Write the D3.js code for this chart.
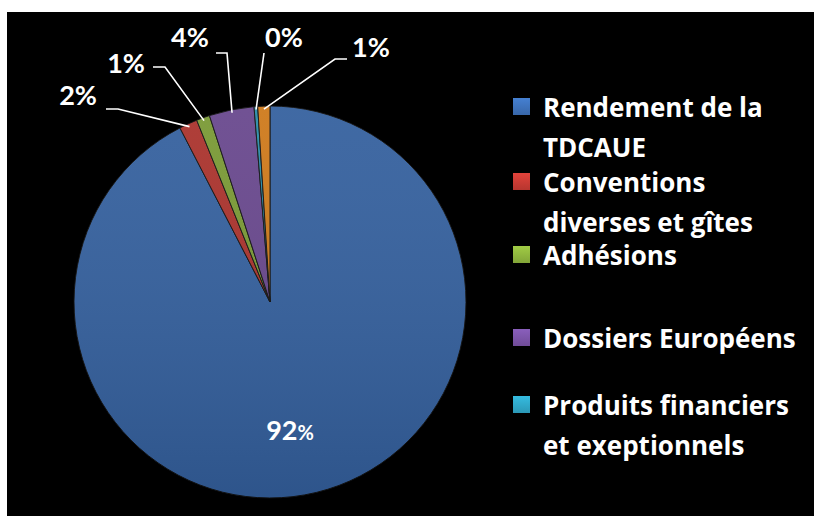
<!DOCTYPE html>
<html><head><meta charset="utf-8">
<script src="https://cdn.jsdelivr.net/npm/d3@7"></script>
<style>
html,body{margin:0;padding:0;background:#fff;}
svg{display:block;}
text{font-family:Lato,"Open Sans",sans-serif;font-weight:bold;fill:#fff;}
text.leg{font-family:"Open Sans",Lato,sans-serif;}
</style></head>
<body>
<svg id="c" width="814" height="516"></svg>
<script>
// ---- data ----
const categories = ["Rendement de la TDCAUE","Conventions diverses et gîtes","Adhésions","Dossiers Européens","Produits financiers et exeptionnels","Autres"];
const values = [92.4, 1.5, 1.1, 3.7, 0.3, 1.0];
const legendLines = [["Rendement de la","TDCAUE"],["Conventions","diverses et gîtes"],["Adhésions"],["Dossiers Européens"],["Produits financiers","et exeptionnels"]];
const colors = ["#3c6fb6","#c43a33","#8cb13c","#7852a3","#2ea3c3","#ee8b1e"];

const svg = d3.select("#c");
svg.append("rect").attr("x",7).attr("y",12).attr("width",807).attr("height",504).attr("fill","#000");

const cx = 270, cy = 302, r = 196;
const defs = svg.append("defs");
colors.forEach((c,i)=>{
  const g = defs.append("radialGradient").attr("id","g"+i).attr("gradientUnits","userSpaceOnUse")
    .attr("cx",cx).attr("cy",cy).attr("r",r);
  const base = d3.color(c);
  g.append("stop").attr("offset","0%").attr("stop-color",base.brighter(0.05));
  g.append("stop").attr("offset","93%").attr("stop-color",base.darker(0.1));
  g.append("stop").attr("offset","97%").attr("stop-color",base.brighter(0.35));
  g.append("stop").attr("offset","100%").attr("stop-color",base.darker(0.4));
});
const lg = defs.append("linearGradient").attr("id","shade").attr("x1",0).attr("y1",0).attr("x2",0).attr("y2",1);
lg.append("stop").attr("offset","0%").attr("stop-color","#fff").attr("stop-opacity",0.06);
lg.append("stop").attr("offset","100%").attr("stop-color","#000").attr("stop-opacity",0.12);

const pie = d3.pie().sort(null).value(d=>d);
const arcs = pie(values);
const arc = d3.arc().innerRadius(0).outerRadius(r);
const rim = d3.arc().innerRadius(r-3).outerRadius(r-3);

const gp = svg.append("g").attr("transform",`translate(${cx},${cy})`);
gp.selectAll("path.s").data(arcs).join("path").attr("class","s")
  .attr("d",arc).attr("fill",(d,i)=>`url(#g${i})`)
  .attr("stroke","#111").attr("stroke-width",1).attr("stroke-linejoin","round");
gp.append("circle").attr("r",r).attr("fill","url(#shade)");

// label layout (text position and leader elbow, page coords)
const labelLayout = [
  {tx:290, ty:440, anchor:"middle", inside:true},
  {tx:97,  ty:105, anchor:"end",   p:[[106,109],[118,109]]},
  {tx:145, ty:73,  anchor:"end",   p:[[153,67],[165,67]]},
  {tx:190, ty:47,  anchor:"middle",p:[[216,53],[227,53]]},
  {tx:284, ty:47,  anchor:"middle",p:[[264,53]]},
  {tx:352, ty:57,  anchor:"start", p:[[347,59],[335,59]]}
];
const fmt = v => Math.round(v);
arcs.forEach((a,i)=>{
  const L = labelLayout[i];
  if(L.inside){
    const t = svg.append("text").attr("x",L.tx).attr("y",L.ty).attr("text-anchor",L.anchor).attr("font-size",27);
    t.append("tspan").text(fmt(a.value));
    t.append("tspan").attr("font-size",20).text("%");
    return;
  }
  const c = rim.centroid(a);
  const pts = L.p.concat([[cx+c[0], cy+c[1]]]);
  svg.append("path").attr("d",d3.line()(pts)).attr("fill","none").attr("stroke","#fff").attr("stroke-width",1.6);
  svg.append("text").attr("x",L.tx).attr("y",L.ty).attr("text-anchor",L.anchor).attr("font-size",27).text(fmt(a.value)+"%");
});

// legend
const legY = d3.scaleOrdinal().domain(d3.range(5)).range([117,192,265,348,415]);
const lgG = svg.append("g");
legendLines.forEach((lines,i)=>{
  const y = legY(i);
  const base = d3.color(colors[i]);
  const mg = defs.append("linearGradient").attr("id","m"+i).attr("x1",0).attr("y1",0).attr("x2",0).attr("y2",1);
  mg.append("stop").attr("offset","0%").attr("stop-color",base.brighter(0.4));
  mg.append("stop").attr("offset","100%").attr("stop-color",base.darker(0.2));
  lgG.append("rect").attr("x",513).attr("y",y-19).attr("width",17).attr("height",17).attr("fill",`url(#m${i})`);
  lines.forEach((ln,j)=>{
    lgG.append("text").attr("class","leg").attr("x",543).attr("y",y+j*40).attr("font-size",26).text(ln);
  });
});
</script>
</body></html>
